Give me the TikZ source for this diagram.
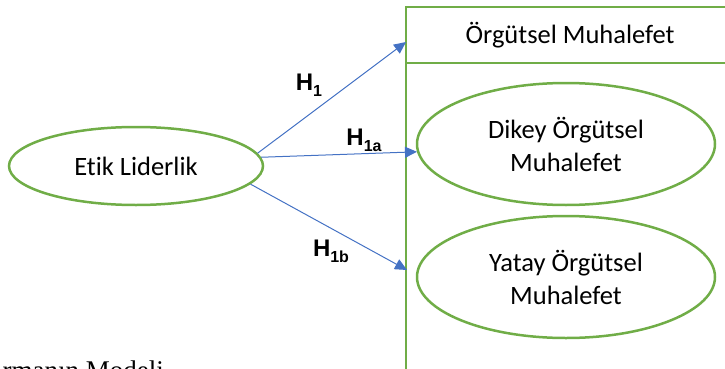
\documentclass[tikz,border=0pt]{standalone}
\usepackage{fontspec}
\setmainfont{Carlito}[Ligatures=NoCommon]
\newfontfamily\lblfont{Liberation Sans}
\newfontfamily\capfont{Liberation Serif}
\usetikzlibrary{arrows.meta,shapes.geometric}
\definecolor{ygreen}{RGB}{112,173,71}
\definecolor{yblue}{RGB}{68,114,196}
\newcommand{\hyp}[1]{{\lblfont\bfseries H\raisebox{-0.25em}{\fontsize{16}{16}\selectfont #1}}}

\begin{document}
\begin{tikzpicture}[x=1pt, y=-1pt, every node/.style={font=\fontsize{26.5}{33}\selectfont},
	oval/.style={ellipse, draw=ygreen, line width=2.5pt, inner sep=0pt, align=center},
	kutu/.style={rectangle, draw=ygreen, line width=2.5pt, inner sep=0pt},
	hok/.style={yblue, line width=1pt, -{Triangle[length=12pt, width=11pt]}},
	lbl/.style={inner sep=0pt, font=\fontsize{24}{24}\selectfont}]
	\clip (0,0) rectangle (725,369);
	% right-hand block
	\node[kutu, minimum width=328pt, minimum height=56pt] (baslik) at (570,35) {Örgütsel Muhalefet};
	\node[kutu, minimum width=328pt, minimum height=337pt] (govde) at (570,231.5) {};
	\node[oval, minimum width=298pt, minimum height=122pt] (dikey) at (566,144) {Dikey Örgütsel\\Muhalefet};
	\node[oval, minimum width=298pt, minimum height=122pt] (yatay) at (566,277) {Yatay Örgütsel\\Muhalefet};
	% left
	\node[oval, minimum width=254pt, minimum height=78pt] (etik) at (136,166) {Etik Liderlik};
	\coordinate (h1uc) at (406,42);
	\coordinate (h1buc) at (407,270);
	\draw[hok] (etik.6) -- (h1uc);
	\draw[hok] (etik.4) -- (dikey.183);
	\draw[hok] (etik.-9) -- (h1buc);
	\node[lbl] (h1) at (309,85) {\hyp{1}};
	\node[lbl] (h1a) at (364,140) {\hyp{1a}};
	\node[lbl] (h1b) at (331,251) {\hyp{1b}};
	\node[inner sep=0pt, anchor=base east, font=\capfont\fontsize{27}{27}\selectfont] (baslikalt) at (164,379) {rmanın Modeli};
\end{tikzpicture}
\end{document}
